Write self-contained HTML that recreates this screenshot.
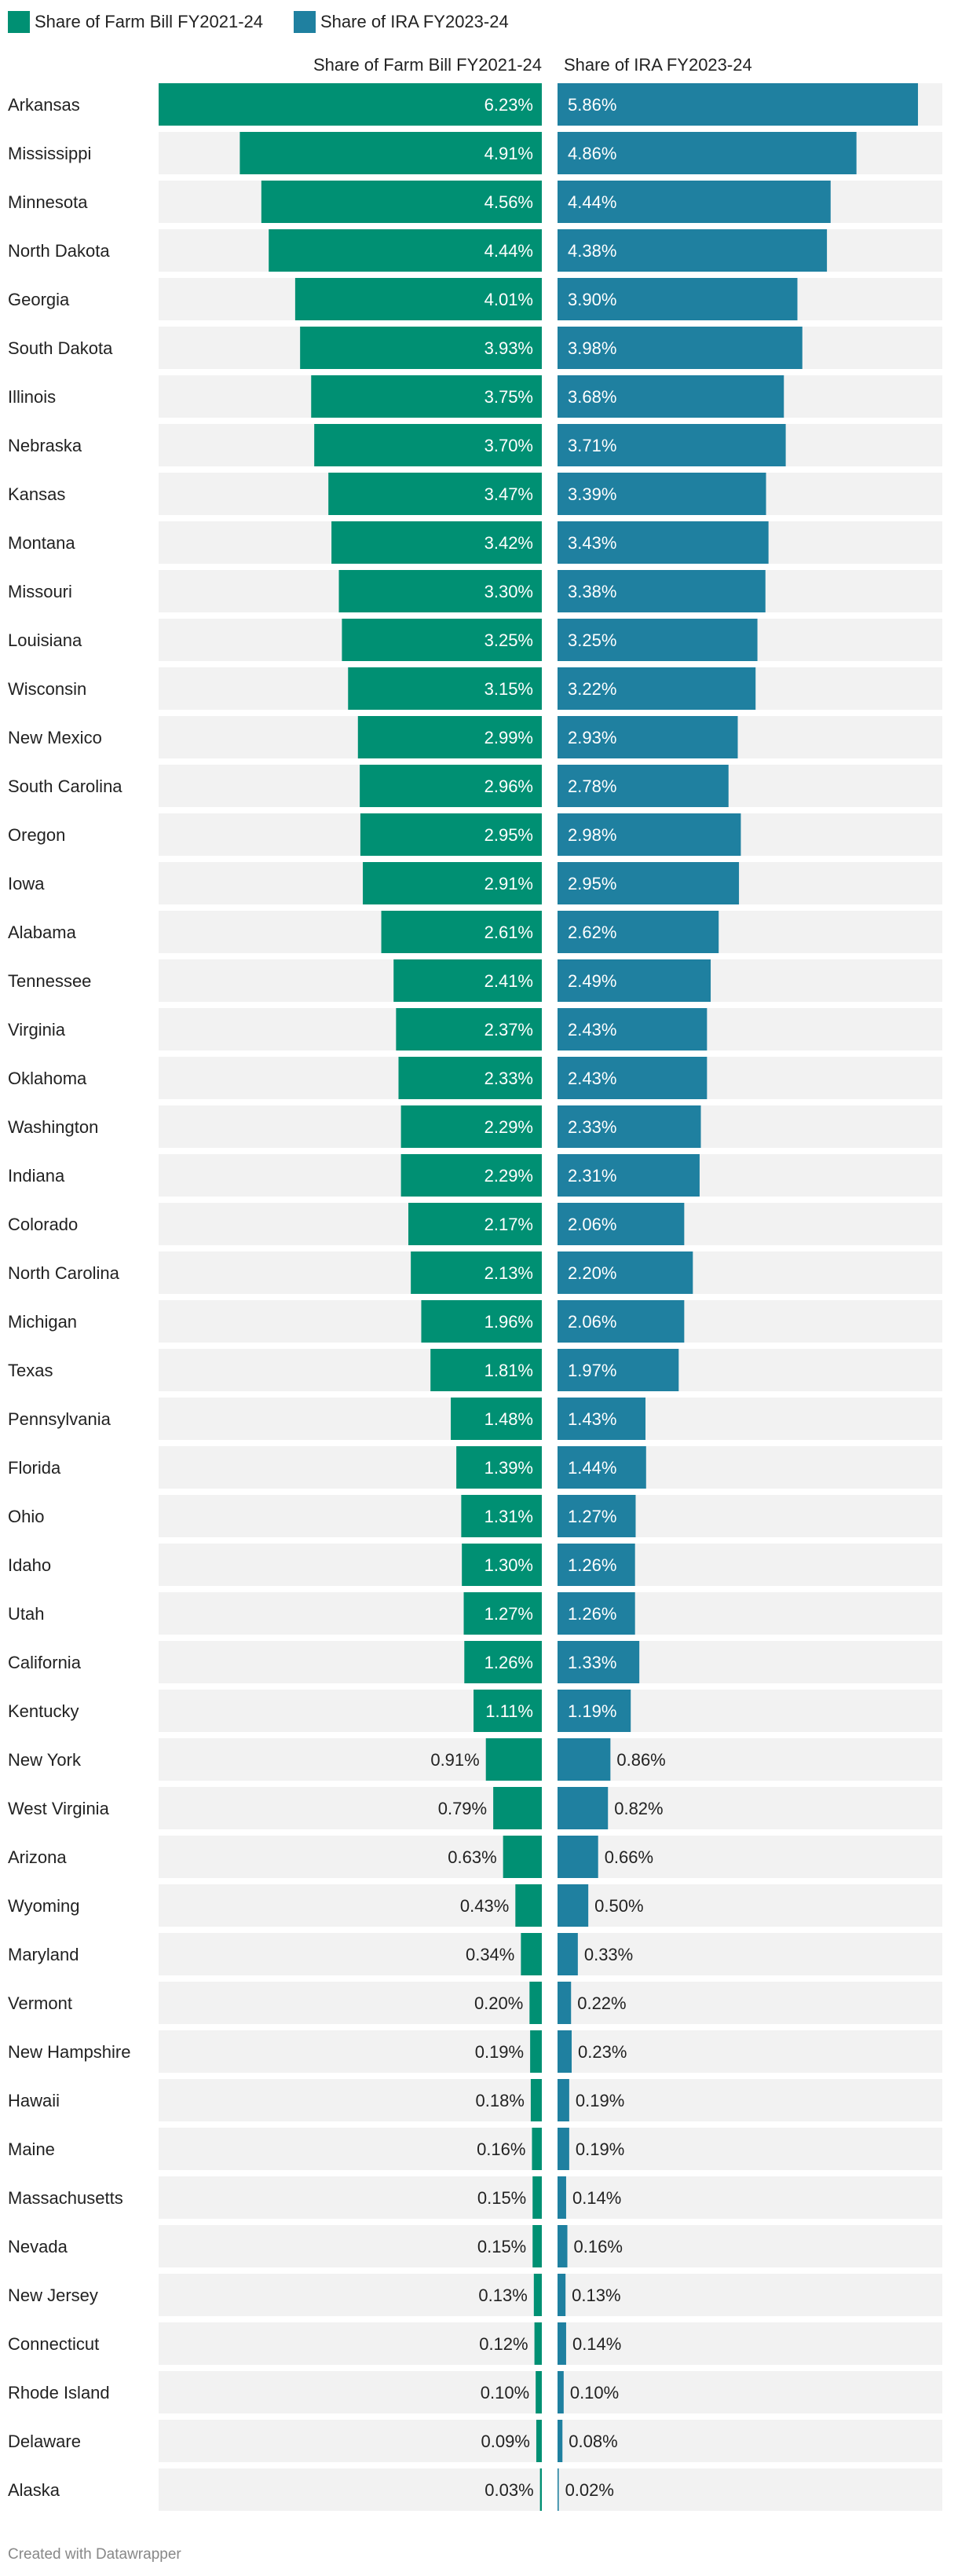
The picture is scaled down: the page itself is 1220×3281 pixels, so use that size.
<!DOCTYPE html>
<html><head><meta charset="utf-8">
<style>
body{margin:0;background:#fff;width:1220px;height:3276px;overflow:hidden;font-family:"Liberation Sans",Arial,sans-serif;}
svg text{font-family:"Liberation Sans",Arial,sans-serif;}
</style></head>
<body>
<svg id="chart" width="1220" height="3276" viewBox="0 0 1220 3276" xmlns="http://www.w3.org/2000/svg">
<g>
<rect x="10" y="14" width="28" height="28" fill="#009073"/>
<text x="44" y="35" font-size="22" fill="#222">Share of Farm Bill FY2021-24</text>
<rect x="374" y="14" width="28" height="28" fill="#1f80a0"/>
<text x="408" y="35" font-size="22" fill="#222">Share of IRA FY2023-24</text>
</g>
<text x="690" y="90" font-size="22" fill="#222" text-anchor="end">Share of Farm Bill FY2021-24</text>
<text x="718" y="90" font-size="22" fill="#222">Share of IRA FY2023-24</text>
<g id="rows"></g>
<text x="10" y="3259" font-size="19" fill="#888">Created with Datawrapper</text>
</svg>
<script>
const states = ["Arkansas","Mississippi","Minnesota","North Dakota","Georgia","South Dakota","Illinois","Nebraska","Kansas","Montana","Missouri","Louisiana","Wisconsin","New Mexico","South Carolina","Oregon","Iowa","Alabama","Tennessee","Virginia","Oklahoma","Washington","Indiana","Colorado","North Carolina","Michigan","Texas","Pennsylvania","Florida","Ohio","Idaho","Utah","California","Kentucky","New York","West Virginia","Arizona","Wyoming","Maryland","Vermont","New Hampshire","Hawaii","Maine","Massachusetts","Nevada","New Jersey","Connecticut","Rhode Island","Delaware","Alaska"];
const farmBill = [6.23,4.91,4.56,4.44,4.01,3.93,3.75,3.70,3.47,3.42,3.30,3.25,3.15,2.99,2.96,2.95,2.91,2.61,2.41,2.37,2.33,2.29,2.29,2.17,2.13,1.96,1.81,1.48,1.39,1.31,1.30,1.27,1.26,1.11,0.91,0.79,0.63,0.43,0.34,0.20,0.19,0.18,0.16,0.15,0.15,0.13,0.12,0.10,0.09,0.03];
const ira = [5.86,4.86,4.44,4.38,3.90,3.98,3.68,3.71,3.39,3.43,3.38,3.25,3.22,2.93,2.78,2.98,2.95,2.62,2.49,2.43,2.43,2.33,2.31,2.06,2.20,2.06,1.97,1.43,1.44,1.27,1.26,1.26,1.33,1.19,0.86,0.82,0.66,0.50,0.33,0.22,0.23,0.19,0.19,0.14,0.16,0.13,0.14,0.10,0.08,0.02];
const domainMax = 6.23;

const NS="http://www.w3.org/2000/svg";
const leftZero=690, leftStart=202, rightZero=710, rightEnd=1200;
const pxPer=(leftZero-leftStart)/domainMax;
const xScale=v=>v*pxPer;
const yRow=i=>106+i*62;
const barH=54;
const g=document.getElementById('rows');
function mk(tag,attrs){const e=document.createElementNS(NS,tag);for(const k in attrs)e.setAttribute(k,attrs[k]);return e;}
states.forEach((s,i)=>{
  const y=yRow(i), cy=y+barH/2+8;
  const row=mk('g',{});
  
  
  const lab=mk('text',{x:10,y:cy,'font-size':22,fill:'#222'});
  
  
  lab.textContent=s;row.appendChild(lab);
  const bg1=mk('rect',{x:leftStart,y:y,width:leftZero-leftStart,height:barH,fill:'#f2f2f2'});
  
  
  row.appendChild(bg1);
  const bg2=mk('rect',{x:rightZero,y:y,width:rightEnd-rightZero,height:barH,fill:'#f2f2f2'});
  
  
  row.appendChild(bg2);
  const w1=xScale(farmBill[i]);
  const b1=mk('rect',{x:leftZero-w1,y:y,width:w1,height:barH,fill:'#009073'});
  
  
  row.appendChild(b1);
  const w2=xScale(ira[i]);
  const b2=mk('rect',{x:rightZero,y:y,width:w2,height:barH,fill:'#1f80a0'});
  
  
  row.appendChild(b2);
  const in1=w1>80;
  const t1=mk('text',{x:in1?leftZero-11:leftZero-w1-8,y:cy,'font-size':22,fill:in1?'#fff':'#222','text-anchor':'end'});
  
  
  t1.textContent=farmBill[i].toFixed(2)+'%';row.appendChild(t1);
  const in2=w2>80;
  const t2=mk('text',{x:in2?rightZero+13:rightZero+w2+8,y:cy,'font-size':22,fill:in2?'#fff':'#222'});
  
  
  t2.textContent=ira[i].toFixed(2)+'%';row.appendChild(t2);
  g.appendChild(row);
});
</script>
</body></html>
